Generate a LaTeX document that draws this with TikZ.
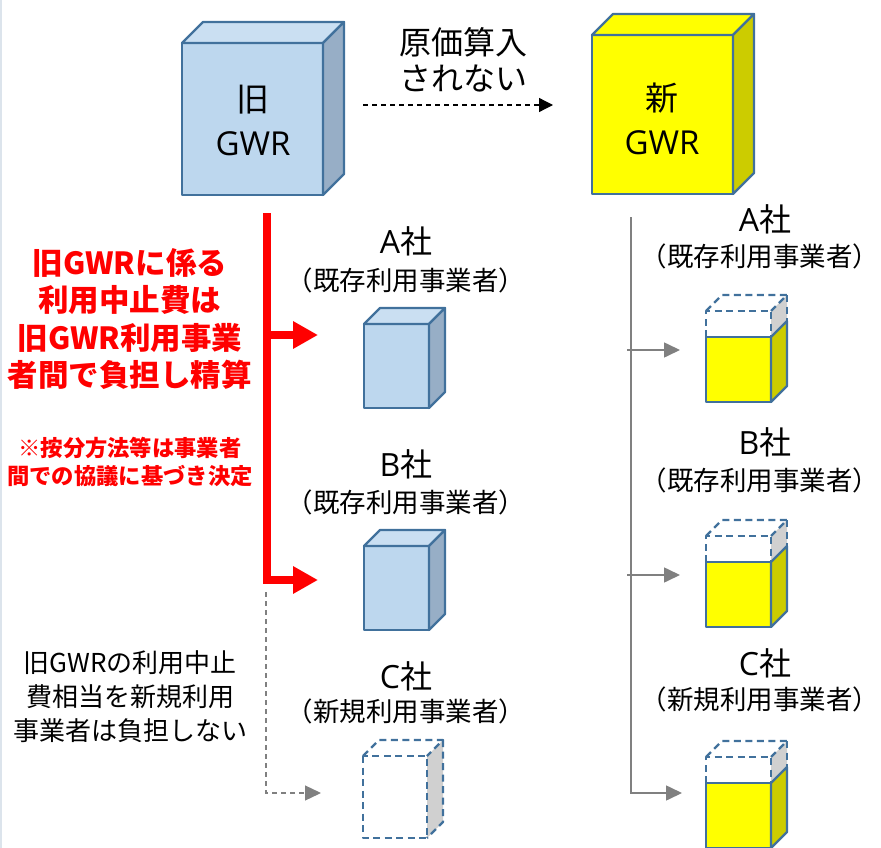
\documentclass[tikz,border=0pt]{standalone}
\usepackage{fontspec}
\setmainfont{Noto Sans CJK JP}
\newfontfamily\lat{Open Sans}
\usetikzlibrary{arrows.meta}
\definecolor{cubeline}{HTML}{41719C}
\definecolor{bluefront}{HTML}{BDD7EE}
\definecolor{bluetop}{HTML}{CADFF2}
\definecolor{blueside}{HTML}{97AEC6}
\definecolor{ylw}{HTML}{FFFF00}
\definecolor{ylwside}{HTML}{CCCC00}
\definecolor{ghost}{HTML}{D0D0D0}
\definecolor{redline}{HTML}{FF0000}
\definecolor{arrowgray}{HTML}{808080}
\definecolor{edgeline}{HTML}{DCE4EC}
\newcommand\solidcube[8]{%
  \filldraw[cubeedge, fill=#6] (#1,#2) rectangle (#1+#3,#2+#4);
  \filldraw[cubeedge, fill=#7] (#1,#2) -- (#1+#5,#2-#5) -- (#1+#3+#5,#2-#5) -- (#1+#3,#2) -- cycle;
  \filldraw[cubeedge, fill=#8] (#1+#3,#2) -- (#1+#3+#5,#2-#5) -- (#1+#3+#5,#2+#4-#5) -- (#1+#3,#2+#4) -- cycle;
}
% x y w h d dashedpart
\newcommand\halfcube[6]{%
  \fill[ghost] (#1+#3,#2) -- (#1+#3+#5,#2-#5) -- (#1+#3+#5,#2+#6-#5) -- (#1+#3,#2+#6) -- cycle;
  \filldraw[cubeedge, fill=ylw] (#1,#2+#6) rectangle (#1+#3,#2+#4);
  \filldraw[cubeedge, fill=ylwside] (#1+#3,#2+#6) -- (#1+#3+#5,#2+#6-#5) -- (#1+#3+#5,#2+#4-#5) -- (#1+#3,#2+#4) -- cycle;
  \draw[cubeedge, ghostdash] (#1,#2+#6) -- (#1,#2) -- (#1+#3,#2) -- (#1+#3,#2+#6);
  \draw[cubeedge, ghostdash] (#1,#2) -- (#1+#5,#2-#5) -- (#1+#3+#5,#2-#5) -- (#1+#3,#2);
  \draw[cubeedge, ghostdash] (#1+#3+#5,#2-#5) -- (#1+#3+#5,#2+#6-#5);
}
\newcommand\ghostcube[5]{%
  \fill[ghost] (#1+#3,#2) -- (#1+#3+#5,#2-#5) -- (#1+#3+#5,#2+#4-#5) -- (#1+#3,#2+#4) -- cycle;
  \draw[cubeedge, ghostdash] (#1,#2) rectangle (#1+#3,#2+#4);
  \draw[cubeedge, ghostdash] (#1,#2) -- (#1+#5,#2-#5) -- (#1+#3+#5,#2-#5) -- (#1+#3,#2);
  \draw[cubeedge, ghostdash] (#1+#3+#5,#2-#5) -- (#1+#3+#5,#2+#4-#5) -- (#1+#3,#2+#4);
}
\begin{document}
\begin{tikzpicture}[x=1pt, y=-1pt,
  cubeedge/.style={draw=cubeline, line width=2.3pt, line join=round},
  ghostdash/.style={dash pattern=on 7pt off 4.5pt},
  txt/.style={inner sep=0pt, align=center, text=black},
  bigtxt/.style={txt, font=\fontsize{33}{44}\selectfont},
  cotxt/.style={txt, font=\fontsize{32}{36}\selectfont},
  subtxt/.style={txt, font=\fontsize{26.5}{30}\selectfont},
  redtxt/.style={txt, text=redline, font=\bfseries\fontsize{30.5}{37.5}\selectfont},
  smallred/.style={txt, text=redline, font=\bfseries\fontsize{22.3}{28}\selectfont},
  notetxt/.style={txt, font=\fontsize{26}{34}\selectfont},
  redarrow/.style={draw=redline, line width=8pt, line join=miter, -{Triangle[length=25pt,width=26pt]}},
  grayarrow/.style={draw=arrowgray, line width=1.6pt, -{Triangle[length=16pt,width=15pt]}},
]
\useasboundingbox (0,0) rectangle (881,848);
\draw[edgeline, line width=2pt] (1,0) -- (1,848);

% big cubes
\solidcube{182}{43}{141}{152}{21}{bluefront}{bluetop}{blueside}
\solidcube{592}{35}{141}{159}{21}{ylw}{ylw}{ylwside}
\node[bigtxt] (oldgwr) at (253,120) {旧\\{\lat GWR}};
\node[bigtxt] (newgwr) at (662,119) {新\\{\lat GWR}};

% top dashed arrow
\node[cotxt] (cost) at (463,60) {原価算入\\されない};
\coordinate (dstart) at (363,105);
\coordinate (dend) at (553,105);
\draw[black, line width=1.3pt, dash pattern=on 5pt off 4pt, -{Triangle[length=14pt,width=14pt]}] (dstart) -- (dend);

% left column cubes
\solidcube{364}{324}{65}{84}{16}{bluefront}{bluetop}{blueside}
\solidcube{364}{546}{65}{84}{16}{bluefront}{bluetop}{blueside}
\ghostcube{363}{756}{64}{82}{16}

% right column cubes
\halfcube{706}{311}{65}{91}{16}{26}
\halfcube{706}{536}{65}{91}{16}{26}
\halfcube{706}{757}{65}{91}{16}{26}

% left labels
\node[cotxt] (la) at (406,241) {{\lat A}社};
\node[subtxt] (las) at (406,280) {（既存利用事業者）};
\node[cotxt] (lb) at (406,464) {{\lat B}社};
\node[subtxt] (lbs) at (406,502) {（既存利用事業者）};
\node[cotxt] (lc) at (406,676) {{\lat C}社};
\node[subtxt] (lcs) at (406,711) {（新規利用事業者）};

% right labels
\node[cotxt] (ra) at (765,219) {{\lat A}社};
\node[subtxt] (ras) at (760,256) {（既存利用事業者）};
\node[cotxt] (rb) at (765,442) {{\lat B}社};
\node[subtxt] (rbs) at (760,480) {（既存利用事業者）};
\node[cotxt] (rc) at (765,663) {{\lat C}社};
\node[subtxt] (rcs) at (760,699) {（新規利用事業者）};

% red arrows
\coordinate (rtop) at (267,213);
\coordinate (rmid) at (267,335);
\coordinate (rbot) at (267,580);
\coordinate (tipA) at (318,335);
\coordinate (tipB) at (318,580);
\draw[redarrow] (rtop) -- (rbot) -- (tipB);
\draw[redarrow] (rmid) -- (tipA);

% gray dashed arrow to C
\coordinate (gtop) at (266,592);
\coordinate (gcorner) at (266,793);
\coordinate (gtip) at (321,793);
\draw[grayarrow, line width=1.3pt, dash pattern=on 5pt off 4pt] (gtop) -- (gcorner) -- (gtip);

% right gray tree
\coordinate (ntop) at (631,217);
\coordinate (ncorner) at (631,793);
\coordinate (ntipC) at (682,793);
\coordinate (nA) at (627,350);
\coordinate (ntipA) at (680,350);
\coordinate (nB) at (627,575);
\coordinate (ntipB) at (680,575);
\draw[grayarrow] (ntop) -- (ncorner) -- (ntipC);
\draw[grayarrow] (nA) -- (ntipA);
\draw[grayarrow] (nB) -- (ntipB);

% left texts
\node[redtxt] (redmain) at (130,319) {旧GWRに係る\\利用中止費は\\旧GWR利用事業\\者間で負担し精算};
\node[smallred] (rednote) at (130,462) {※按分方法等は事業者\\間での協議に基づき決定};
\node[notetxt] (note) at (130,697) {旧GWRの利用中止\\費相当を新規利用\\事業者は負担しない};
\end{tikzpicture}
\end{document}
